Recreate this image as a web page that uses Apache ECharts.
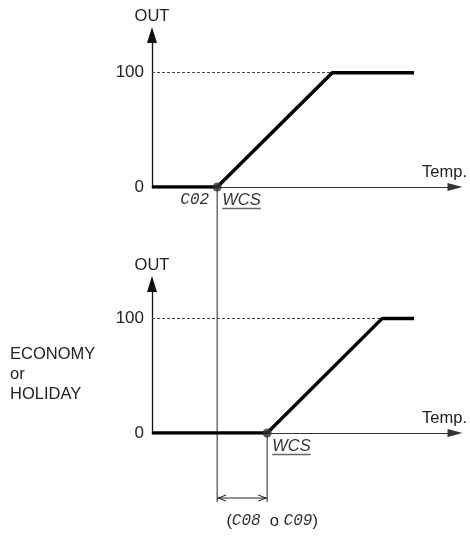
<!DOCTYPE html>
<html>
<head>
<meta charset="utf-8">
<script src="https://cdn.jsdelivr.net/npm/echarts@6/dist/echarts.min.js"></script>
<style>
  html, body { margin: 0; padding: 0; background: #fff; }
  #chart { width: 470px; height: 536px; }
</style>
</head>
<body>
<div id="chart"></div>
<script>
// Output vs. temperature: normal mode (top) and ECONOMY / HOLIDAY mode (bottom)
const tempRange = [0, 100];
const outTicks = [0, 100];
const normalTemp = [0, 21.5, 59.5, 86.5];
const normalOut = [0, 0, 100, 100];
const ecoTemp = [0, 38, 76, 86.5];
const ecoOut = [0, 0, 100, 100];
const normalCode = 'C02';
const ecoCodes = ['C08', 'C09'];
const modeLabel = ['ECONOMY', 'or', 'HOLIDAY'];
const wcsLabel = 'WCS';
const axisNames = { x: 'Temp.', y: 'OUT' };

const FONT = '"Liberation Sans", Arial, sans-serif';
const CODE_FONT = '"Liberation Mono", "DejaVu Sans Mono", monospace';
const TEXT = '#222';
const FS = 16.5;

function zip(xs, ys) { return xs.map((x, i) => [x, ys[i]]); }

function xAxisFor(gridIndex) {
  return {
    type: 'value', gridIndex, min: tempRange[0], max: tempRange[1],
    splitLine: { show: false }, axisTick: { show: false }, axisLabel: { show: false },
    axisLine: { onZero: false, symbol: ['none', 'triangle'], symbolSize: [8, 15],
                lineStyle: { color: '#333', width: 1.2 } },
    name: axisNames.x, nameLocation: 'end', nameGap: 12,
    nameTextStyle: { fontFamily: FONT, fontSize: FS, color: TEXT, align: 'right',
                     verticalAlign: 'bottom', padding: [0, 0, 6, 0] }
  };
}

function yAxisFor(gridIndex, max) {
  return {
    type: 'value', gridIndex, min: 0, max,
    splitLine: { show: false }, axisTick: { show: false },
    axisLabel: { customValues: outTicks, fontFamily: FONT, fontSize: 17, color: TEXT, margin: 8 },
    axisLine: { onZero: false, symbol: ['none', 'triangle'], symbolSize: [10, 16],
                lineStyle: { color: '#111', width: 1.3 } },
    name: axisNames.y, nameLocation: 'end', nameGap: 19,
    nameTextStyle: { fontFamily: FONT, fontSize: FS, color: TEXT, align: 'center', verticalAlign: 'middle' }
  };
}

function seriesFor(gridIndex, temps, outs) {
  return [
    {
      type: 'line', xAxisIndex: gridIndex, yAxisIndex: gridIndex,
      data: zip(temps, outs), symbol: 'none', silent: true,
      lineStyle: { color: '#000', width: 3.5 },
      z: 3,
      markLine: {
        silent: true, symbol: 'none', label: { show: false },
        lineStyle: { color: '#444', width: 1, type: [3, 2] },
        data: [[{ coord: [tempRange[0], outs[2]] }, { coord: [temps[2], outs[2]] }]]
      }
    },
    {
      type: 'scatter', xAxisIndex: gridIndex, yAxisIndex: gridIndex,
      data: [[temps[1], outs[1]]], symbol: 'circle', symbolSize: 9,
      itemStyle: { color: '#333' }, silent: true, z: 4
    }
  ];
}

const chart = echarts.init(document.getElementById('chart'), null, { renderer: 'canvas' });

const option = {
  animation: false,
  backgroundColor: '#fff',
  grid: [
    { left: 152, top: 35, width: 303, height: 152 },
    { left: 152, top: 284, width: 303, height: 149 }
  ],
  xAxis: [xAxisFor(0), xAxisFor(1)],
  yAxis: [yAxisFor(0, 133), yAxisFor(1, 130)],
  series: [...seriesFor(0, normalTemp, normalOut), ...seriesFor(1, ecoTemp, ecoOut)]
};
chart.setOption(option);

// Annotations placed from the axes' own pixel mapping
const measure = document.createElement('canvas').getContext('2d');
function textWidth(str, font) { measure.font = font; return measure.measureText(str).width; }

const pTop = chart.convertToPixel({ gridIndex: 0 }, [normalTemp[1], normalOut[1]]);
const pEco = chart.convertToPixel({ gridIndex: 1 }, [ecoTemp[1], ecoOut[1]]);
const dimY = pEco[1] + 65;
const extY = dimY + 4;
const wcsFont = 'italic ' + FS + 'px ' + FONT;
const wcsW = textWidth(wcsLabel, wcsFont);
const lineStyle = { stroke: '#222', lineWidth: 1 };

function wcsText(p) {
  const x = p[0] + 5, y = p[1] + 13;
  return [
    { type: 'text', silent: true, style: { text: wcsLabel, x, y, font: wcsFont, fill: '#333', verticalAlign: 'middle' } },
    { type: 'line', silent: true, shape: { x1: x, y1: y + 8.5, x2: x + wcsW, y2: y + 8.5 }, style: { stroke: '#666', lineWidth: 1.5 } }
  ];
}

const graphics = [
  // drop lines from each WCS point down to the offset dimension
  { type: 'line', silent: true, shape: { x1: pTop[0], y1: pTop[1], x2: pTop[0], y2: extY }, style: lineStyle },
  { type: 'line', silent: true, shape: { x1: pEco[0], y1: pEco[1], x2: pEco[0], y2: extY }, style: lineStyle },
  // dimension line with open arrowheads
  { type: 'line', silent: true, shape: { x1: pTop[0], y1: dimY, x2: pEco[0], y2: dimY }, style: lineStyle },
  { type: 'polyline', silent: true, shape: { points: [[pTop[0] + 9, dimY - 3], [pTop[0] + 1, dimY], [pTop[0] + 9, dimY + 3]] }, style: { stroke: '#222', lineWidth: 1, fill: null } },
  { type: 'polyline', silent: true, shape: { points: [[pEco[0] - 9, dimY - 3], [pEco[0] - 1, dimY], [pEco[0] - 9, dimY + 3]] }, style: { stroke: '#222', lineWidth: 1, fill: null } },
  // set-point code next to the normal WCS
  { type: 'text', silent: true, style: { text: normalCode, x: pTop[0] - 8, y: pTop[1] + 13, font: 'italic 16px ' + CODE_FONT, fill: '#333', align: 'right', verticalAlign: 'middle' } },
  ...wcsText(pTop),
  ...wcsText(pEco),
  // offset parameter codes under the dimension
  {
    type: 'text', silent: true,
    style: {
      text: '(' + '{c|' + ecoCodes[0] + '}' + '  o ' + '{c|' + ecoCodes[1] + '})',
      x: (pTop[0] + pEco[0]) / 2 + 30, y: dimY + 23,
      font: FS + 'px ' + FONT, fill: TEXT, align: 'center', verticalAlign: 'middle',
      rich: { c: { fontFamily: CODE_FONT, fontStyle: 'italic', fontSize: 16, fill: '#333' } }
    }
  },
  // mode caption beside the lower chart
  {
    type: 'text', silent: true,
    style: { text: modeLabel.join('\n'), x: 10, y: 344, font: FS + 'px ' + FONT, fill: TEXT, lineHeight: 20 }
  }
];
chart.setOption({ graphic: graphics });
</script>
</body>
</html>
